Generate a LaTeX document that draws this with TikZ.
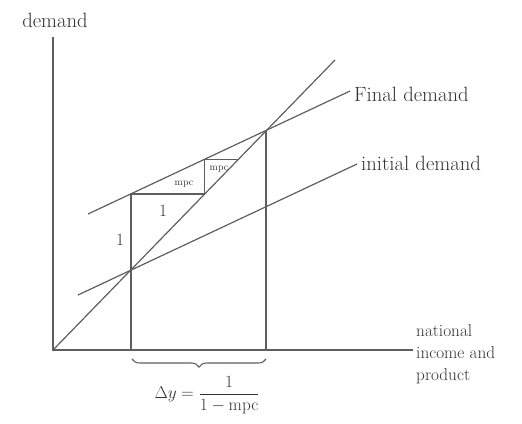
\documentclass[tikz,border=0pt]{standalone}
\usepackage{amsmath}
\usepackage{xcolor}
\usepackage{tikz}
\usetikzlibrary{decorations.pathreplacing}
\definecolor{pencil}{HTML}{5E5E5E}
\definecolor{inkdark}{HTML}{333333}
\tikzset{
  axis/.style={draw=pencil,line width=1.3pt},
  curve/.style={draw=pencil,line width=1.2pt},
  guide/.style={draw=pencil,line width=1.1pt},
  lbl/.style={text=inkdark,font=\huge,inner sep=1pt},
  small/.style={text=inkdark,font=\normalsize,inner sep=0.5pt},
}
\begin{document}
\begin{tikzpicture}[x=1bp,y=-1bp]
  \useasboundingbox (0,0) rectangle (522,423);
  % axes
  \coordinate (O) at (53,350);
  \coordinate (ytop) at (53,37);
  \coordinate (xend) at (413,350);
  \draw[axis] (ytop) -- (O) -- (xend);
  \node[lbl] (ylab) at (55,20) {demand};
  \node[lbl,align=left,anchor=west,font=\LARGE] (xlab) at (415,354) {national\\income and\\product};
  % 45 degree line and demand lines
  \coordinate (diag) at (335,60);
  \draw[curve] (O) -- (diag);
  \coordinate (idA) at (78,295);
  \coordinate (idB) at (357,164);
  \draw[curve] (idA) -- (idB);
  \node[lbl,anchor=west] (idlab) at (360,163) {initial demand};
  \coordinate (fdA) at (88,214);
  \coordinate (fdB) at (350,91);
  \draw[curve] (fdA) -- (fdB);
  \node[lbl,anchor=west] (fdlab) at (353,94) {Final demand};
  % equilibria and steps
  \coordinate (E0) at (131,270);
  \coordinate (E1) at (266,130.5);
  \coordinate (S1) at (131,194);
  \coordinate (S2) at (204.5,194);
  \coordinate (S3) at (204.5,159.5);
  \coordinate (S4) at (238,159.5);
  \draw[guide] (131,350) -- (E0) -- (S1) -- (S2) -- (S3) -- (S4);
  \draw[guide] (266,350) -- (E1);
  \node[lbl,font=\LARGE] (one1) at (120,240) {1};
  \node[lbl,font=\LARGE] (one2) at (163,211) {1};
  \node[small] (mpc1) at (184,184) {mpc};
  \node[small] (mpc2) at (219,169) {mpc};
  % multiplier
  \draw[guide,decorate,decoration={brace,mirror,amplitude=8bp}] (132,359) -- (266,359);
  \node[lbl,font=\LARGE] (dy) at (207,395) {$\Delta y = \dfrac{1}{1-\mathrm{mpc}}$};
\end{tikzpicture}
\end{document}
